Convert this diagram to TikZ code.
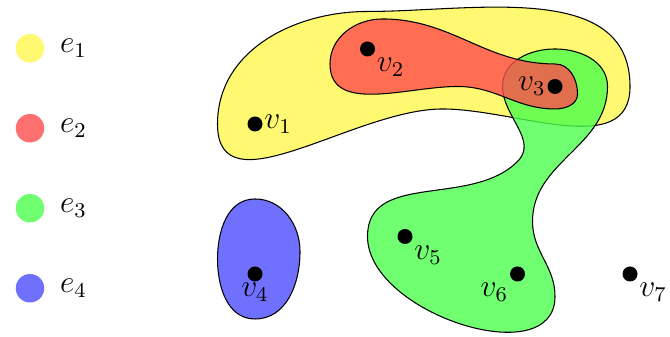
\documentclass[tikz,border=0pt]{standalone}
\usepackage{amsmath,amssymb}
\usepackage{tikz}
\usetikzlibrary{calc}

\tikzset{
  vdot/.style={fill=black},
  edgeset/.style={draw=black, fill opacity=0.8},
  legdot/.style={fill opacity=0.8}
}

\begin{document}
\begin{tikzpicture}[font=\large]

\useasboundingbox (-3.4,-0.827) rectangle (5.533,3.653);

%% ===================== Vertices =====================
\coordinate (v1) at (0,2);
\coordinate (v2) at (1.5,3);
\coordinate (v3) at (4,2.5);
\coordinate (v4) at (0,0);
\coordinate (v5) at (2,0.5);
\coordinate (v6) at (3.5,0);
\coordinate (v7) at (5,0);

%% ===================== Hyperedges =====================
\begin{scope}
  % e1
  \filldraw[edgeset, fill=yellow!70] ($(v1)+(-0.5,0)$)
    to[out=90,in=180] ($(v2)+(0,0.5)$)
    to[out=0,in=90] ($(v3)+(1,0)$)
    to[out=270,in=0] ($(v2)+(1,-0.8)$)
    to[out=180,in=270] ($(v1)+(-0.5,0)$);
  % e4
  \filldraw[edgeset, fill=blue!70] ($(v4)+(-0.5,0.2)$)
    to[out=90,in=180] ($(v4)+(0,1)$)
    to[out=0,in=90] ($(v4)+(0.6,0.3)$)
    to[out=270,in=0] ($(v4)+(0,-0.6)$)
    to[out=180,in=270] ($(v4)+(-0.5,0.2)$);
  % e3
  \filldraw[edgeset, fill=green!70] ($(v5)+(-0.5,0)$)
    to[out=90,in=225] ($(v3)+(-0.5,-1)$)
    to[out=45,in=270] ($(v3)+(-0.7,0)$)
    to[out=90,in=180] ($(v3)+(0,0.5)$)
    to[out=0,in=90] ($(v3)+(0.7,0)$)
    to[out=270,in=90] ($(v3)+(-0.3,-1.8)$)
    to[out=270,in=90] ($(v6)+(0.5,-0.3)$)
    to[out=270,in=270] ($(v5)+(-0.5,0)$);
  % e2
  \filldraw[edgeset, fill=red!70] ($(v2)+(-0.5,-0.2)$)
    to[out=90,in=180] ($(v2)+(0.2,0.4)$)
    to[out=0,in=180] ($(v3)+(0,0.3)$)
    to[out=0,in=90] ($(v3)+(0.3,-0.1)$)
    to[out=270,in=0] ($(v3)+(0,-0.3)$)
    to[out=180,in=0] ($(v3)+(-1.3,0)$)
    to[out=180,in=270] ($(v2)+(-0.5,-0.2)$);
\end{scope}

%% ===================== Vertex dots and labels =====================
\foreach \v in {1,2,...,7}{
  \fill[vdot] (v\v) circle (0.1);
}
\node[right]       (l1) at (v1) {$v_1$};
\node[below right] (l2) at (v2) {$v_2$};
\node[left]        (l3) at (v3) {$v_3$};
\node[below]       (l4) at (v4) {$v_4$};
\node[below right] (l5) at (v5) {$v_5$};
\node[below left]  (l6) at (v6) {$v_6$};
\node[below right] (l7) at (v7) {$v_7$};

%% ===================== Legend =====================
\foreach \i/\c in {1/yellow,2/red,3/green,4/blue}{
  \fill[legdot, \c!70] (-3,{3.01-1.0667*(\i-1)}) circle (0.19);
  \node (e\i) at (-2.42,{3.01-1.0667*(\i-1)}) {$e_\i$};
}

\end{tikzpicture}
\end{document}
